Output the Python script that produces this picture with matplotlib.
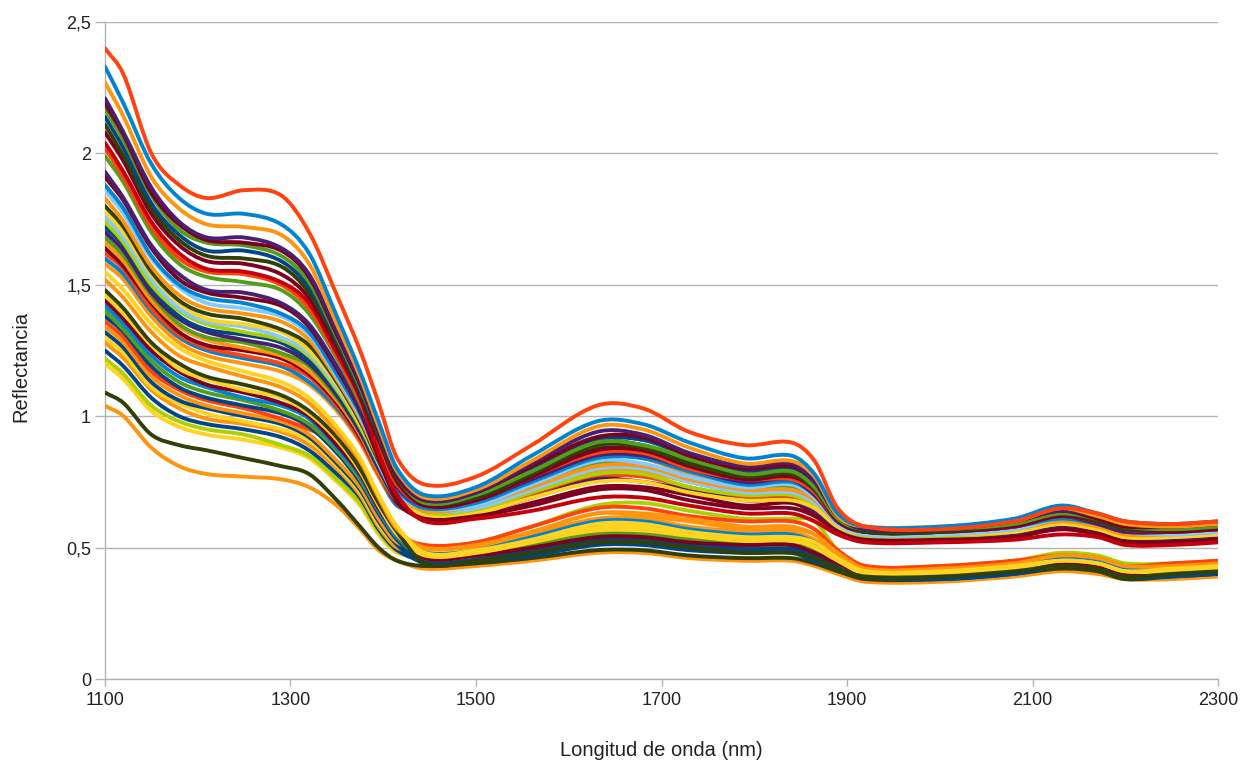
import matplotlib
matplotlib.use("Agg")
import matplotlib.pyplot as plt
from matplotlib.path import Path
from matplotlib.patches import PathPatch

wavelength_nm = [1100, 1120, 1150, 1180, 1210, 1250, 1290, 1320, 1350, 1375, 1395, 1415,
                 1445, 1500, 1560, 1630, 1680, 1730, 1790, 1840, 1865, 1890, 1920, 2000,
                 2080, 2130, 2170, 2200, 2250, 2300]

# Spectra that end in the upper band (~0.55-0.65) beyond 1900 nm
upper_colors = ["#ff420e", "#0084d1", "#ff950e", "#4b1f6f", "#7e0021", "#579d1c", "#004586",
                "#314004", "#7e0021", "#c5000b", "#ff420e", "#579d1c", "#4b1f6f", "#7e0021",
                "#0084d1", "#83caff", "#ff950e", "#314004", "#ffd320", "#83caff", "#aecf00",
                "#004586", "#4b1f6f", "#579d1c", "#ff950e", "#7e0021", "#ff420e", "#0084d1",
                "#ff950e"]
upper_spectra = [
    [2.40, 2.30, 2.00, 1.88, 1.83, 1.86, 1.84, 1.70, 1.46, 1.25, 1.05, 0.84, 0.74, 0.77, 0.89, 1.04, 1.03, 0.94, 0.89, 0.90, 0.83, 0.65, 0.58, 0.57, 0.60, 0.65, 0.63, 0.60, 0.59, 0.60],
    [2.33, 2.19, 1.96, 1.83, 1.77, 1.77, 1.73, 1.62, 1.38, 1.17, 0.98, 0.80, 0.70, 0.73, 0.85, 0.98, 0.97, 0.90, 0.84, 0.85, 0.78, 0.63, 0.58, 0.58, 0.61, 0.66, 0.63, 0.60, 0.59, 0.60],
    [2.27, 2.14, 1.91, 1.79, 1.73, 1.72, 1.69, 1.58, 1.35, 1.15, 0.96, 0.79, 0.69, 0.72, 0.83, 0.96, 0.95, 0.88, 0.82, 0.83, 0.77, 0.62, 0.58, 0.58, 0.60, 0.65, 0.62, 0.59, 0.58, 0.59],
    [2.21, 2.08, 1.87, 1.74, 1.68, 1.68, 1.64, 1.54, 1.32, 1.13, 0.95, 0.78, 0.68, 0.71, 0.82, 0.94, 0.93, 0.86, 0.81, 0.82, 0.75, 0.62, 0.57, 0.57, 0.60, 0.64, 0.62, 0.59, 0.58, 0.59],
    [2.19, 2.07, 1.85, 1.73, 1.67, 1.66, 1.63, 1.53, 1.31, 1.12, 0.94, 0.77, 0.68, 0.71, 0.81, 0.92, 0.92, 0.85, 0.80, 0.81, 0.75, 0.62, 0.57, 0.57, 0.60, 0.64, 0.61, 0.58, 0.58, 0.59],
    [2.17, 2.05, 1.84, 1.71, 1.66, 1.65, 1.61, 1.51, 1.30, 1.11, 0.94, 0.77, 0.67, 0.70, 0.79, 0.90, 0.89, 0.84, 0.78, 0.79, 0.73, 0.61, 0.57, 0.57, 0.59, 0.63, 0.61, 0.58, 0.57, 0.58],
    [2.14, 2.02, 1.81, 1.69, 1.63, 1.63, 1.59, 1.49, 1.29, 1.10, 0.93, 0.77, 0.68, 0.70, 0.80, 0.91, 0.91, 0.85, 0.79, 0.80, 0.74, 0.61, 0.57, 0.57, 0.59, 0.64, 0.61, 0.58, 0.57, 0.58],
    [2.11, 1.99, 1.79, 1.67, 1.61, 1.60, 1.57, 1.47, 1.28, 1.09, 0.92, 0.76, 0.67, 0.69, 0.78, 0.89, 0.88, 0.82, 0.77, 0.78, 0.72, 0.61, 0.56, 0.56, 0.59, 0.63, 0.60, 0.57, 0.57, 0.58],
    [2.08, 1.97, 1.77, 1.65, 1.59, 1.58, 1.54, 1.45, 1.26, 1.08, 0.91, 0.75, 0.66, 0.68, 0.77, 0.87, 0.87, 0.81, 0.76, 0.77, 0.72, 0.60, 0.56, 0.56, 0.58, 0.62, 0.60, 0.57, 0.56, 0.57],
    [2.04, 1.93, 1.74, 1.62, 1.56, 1.55, 1.51, 1.43, 1.24, 1.07, 0.86, 0.70, 0.60, 0.61, 0.64, 0.69, 0.69, 0.66, 0.63, 0.63, 0.60, 0.55, 0.52, 0.52, 0.53, 0.55, 0.54, 0.51, 0.51, 0.52],
    [2.02, 1.91, 1.72, 1.60, 1.55, 1.54, 1.50, 1.41, 1.23, 1.06, 0.89, 0.74, 0.66, 0.68, 0.77, 0.86, 0.86, 0.80, 0.76, 0.76, 0.71, 0.60, 0.56, 0.56, 0.58, 0.62, 0.60, 0.57, 0.56, 0.57],
    [1.99, 1.89, 1.70, 1.58, 1.53, 1.51, 1.48, 1.39, 1.22, 1.05, 0.89, 0.74, 0.67, 0.69, 0.79, 0.89, 0.88, 0.83, 0.78, 0.78, 0.73, 0.61, 0.56, 0.56, 0.59, 0.63, 0.60, 0.57, 0.57, 0.58],
    [1.93, 1.83, 1.65, 1.54, 1.48, 1.47, 1.43, 1.35, 1.19, 1.03, 0.87, 0.73, 0.66, 0.68, 0.76, 0.85, 0.85, 0.80, 0.75, 0.76, 0.70, 0.60, 0.56, 0.56, 0.58, 0.62, 0.59, 0.56, 0.56, 0.57],
    [1.91, 1.82, 1.64, 1.52, 1.47, 1.45, 1.42, 1.34, 1.18, 1.02, 0.84, 0.68, 0.61, 0.62, 0.66, 0.72, 0.72, 0.68, 0.65, 0.65, 0.62, 0.56, 0.53, 0.53, 0.54, 0.57, 0.55, 0.52, 0.52, 0.53],
    [1.88, 1.79, 1.61, 1.50, 1.45, 1.43, 1.39, 1.32, 1.16, 1.01, 0.85, 0.72, 0.65, 0.67, 0.75, 0.84, 0.84, 0.79, 0.74, 0.75, 0.70, 0.60, 0.56, 0.56, 0.58, 0.61, 0.59, 0.56, 0.56, 0.57],
    [1.86, 1.77, 1.60, 1.49, 1.43, 1.41, 1.38, 1.31, 1.15, 1.00, 0.85, 0.71, 0.65, 0.66, 0.74, 0.83, 0.82, 0.77, 0.73, 0.74, 0.69, 0.59, 0.55, 0.55, 0.57, 0.61, 0.59, 0.56, 0.55, 0.56],
    [1.83, 1.74, 1.57, 1.46, 1.41, 1.39, 1.36, 1.29, 1.14, 0.99, 0.84, 0.71, 0.64, 0.66, 0.73, 0.81, 0.81, 0.76, 0.72, 0.72, 0.68, 0.59, 0.55, 0.55, 0.57, 0.60, 0.58, 0.55, 0.55, 0.56],
    [1.80, 1.72, 1.55, 1.44, 1.39, 1.37, 1.33, 1.27, 1.13, 0.98, 0.83, 0.70, 0.66, 0.68, 0.77, 0.88, 0.87, 0.82, 0.77, 0.77, 0.72, 0.61, 0.57, 0.57, 0.59, 0.63, 0.61, 0.58, 0.57, 0.58],
    [1.78, 1.70, 1.54, 1.43, 1.37, 1.35, 1.32, 1.25, 1.12, 0.97, 0.83, 0.70, 0.62, 0.63, 0.69, 0.75, 0.75, 0.71, 0.68, 0.68, 0.65, 0.58, 0.55, 0.55, 0.56, 0.59, 0.57, 0.54, 0.54, 0.55],
    [1.76, 1.68, 1.52, 1.41, 1.36, 1.34, 1.30, 1.24, 1.11, 0.97, 0.82, 0.69, 0.64, 0.65, 0.72, 0.80, 0.80, 0.75, 0.71, 0.71, 0.67, 0.59, 0.55, 0.55, 0.57, 0.60, 0.58, 0.55, 0.55, 0.56],
    [1.74, 1.66, 1.50, 1.40, 1.35, 1.32, 1.29, 1.23, 1.10, 0.96, 0.82, 0.69, 0.63, 0.64, 0.71, 0.78, 0.78, 0.73, 0.70, 0.70, 0.66, 0.58, 0.54, 0.54, 0.56, 0.59, 0.57, 0.54, 0.54, 0.55],
    [1.72, 1.65, 1.49, 1.38, 1.33, 1.31, 1.28, 1.21, 1.09, 0.95, 0.81, 0.69, 0.67, 0.69, 0.79, 0.90, 0.89, 0.83, 0.78, 0.79, 0.73, 0.61, 0.57, 0.57, 0.59, 0.63, 0.61, 0.58, 0.57, 0.58],
    [1.70, 1.63, 1.47, 1.37, 1.32, 1.29, 1.26, 1.20, 1.08, 0.94, 0.80, 0.68, 0.62, 0.63, 0.69, 0.76, 0.75, 0.72, 0.68, 0.68, 0.64, 0.57, 0.54, 0.54, 0.55, 0.58, 0.57, 0.54, 0.53, 0.54],
    [1.68, 1.61, 1.46, 1.35, 1.30, 1.28, 1.24, 1.19, 1.07, 0.94, 0.80, 0.68, 0.64, 0.66, 0.73, 0.82, 0.81, 0.77, 0.72, 0.73, 0.68, 0.59, 0.55, 0.55, 0.57, 0.60, 0.58, 0.55, 0.55, 0.56],
    [1.66, 1.59, 1.44, 1.34, 1.29, 1.26, 1.23, 1.17, 1.06, 0.93, 0.79, 0.68, 0.65, 0.67, 0.75, 0.85, 0.84, 0.78, 0.74, 0.74, 0.70, 0.60, 0.56, 0.56, 0.57, 0.61, 0.60, 0.57, 0.56, 0.57],
    [1.64, 1.57, 1.43, 1.32, 1.27, 1.25, 1.22, 1.16, 1.05, 0.92, 0.79, 0.67, 0.61, 0.62, 0.67, 0.73, 0.73, 0.70, 0.66, 0.67, 0.63, 0.57, 0.54, 0.54, 0.55, 0.57, 0.56, 0.53, 0.53, 0.54],
    [1.62, 1.56, 1.41, 1.31, 1.26, 1.23, 1.20, 1.15, 1.04, 0.91, 0.78, 0.67, 0.62, 0.64, 0.70, 0.77, 0.77, 0.73, 0.69, 0.69, 0.65, 0.58, 0.54, 0.54, 0.56, 0.58, 0.57, 0.54, 0.54, 0.55],
    [1.60, 1.54, 1.40, 1.30, 1.25, 1.22, 1.19, 1.13, 1.03, 0.91, 0.78, 0.66, 0.65, 0.69, 0.81, 0.92, 0.91, 0.85, 0.80, 0.80, 0.74, 0.62, 0.57, 0.57, 0.60, 0.64, 0.61, 0.58, 0.58, 0.59],
    [1.58, 1.52, 1.38, 1.28, 1.23, 1.20, 1.17, 1.12, 1.02, 0.90, 0.77, 0.66, 0.63, 0.65, 0.72, 0.79, 0.79, 0.75, 0.71, 0.72, 0.67, 0.58, 0.55, 0.55, 0.56, 0.60, 0.59, 0.56, 0.55, 0.56],
]

# Spectra that end in the lower band (~0.38-0.45) beyond 1900 nm
lower_colors = ["#ffd320", "#ff950e", "#314004", "#ffd320", "#7e0021", "#0084d1", "#579d1c",
                "#004586", "#ff420e", "#ff950e", "#004586", "#ffd320", "#ff950e", "#004586",
                "#aecf00", "#ffd320", "#314004", "#ff950e"]
lower_spectra = [
    [1.55, 1.48, 1.35, 1.26, 1.21, 1.17, 1.13, 1.07, 0.96, 0.84, 0.70, 0.58, 0.48, 0.49, 0.53, 0.59, 0.59, 0.56, 0.54, 0.54, 0.52, 0.46, 0.41, 0.41, 0.43, 0.45, 0.44, 0.41, 0.42, 0.43],
    [1.52, 1.45, 1.32, 1.23, 1.19, 1.15, 1.11, 1.05, 0.94, 0.83, 0.69, 0.57, 0.50, 0.51, 0.56, 0.63, 0.63, 0.61, 0.58, 0.58, 0.55, 0.48, 0.42, 0.42, 0.44, 0.47, 0.46, 0.43, 0.43, 0.44],
    [1.48, 1.41, 1.28, 1.20, 1.15, 1.12, 1.08, 1.02, 0.92, 0.80, 0.67, 0.56, 0.44, 0.45, 0.48, 0.52, 0.52, 0.50, 0.48, 0.48, 0.46, 0.42, 0.39, 0.39, 0.41, 0.43, 0.42, 0.39, 0.40, 0.41],
    [1.46, 1.39, 1.27, 1.18, 1.14, 1.10, 1.07, 1.01, 0.91, 0.79, 0.66, 0.55, 0.47, 0.48, 0.52, 0.57, 0.57, 0.55, 0.53, 0.53, 0.50, 0.45, 0.40, 0.40, 0.42, 0.45, 0.44, 0.41, 0.41, 0.42],
    [1.44, 1.37, 1.25, 1.17, 1.12, 1.09, 1.05, 1.00, 0.89, 0.78, 0.65, 0.55, 0.46, 0.47, 0.50, 0.54, 0.54, 0.52, 0.51, 0.51, 0.48, 0.44, 0.40, 0.40, 0.42, 0.44, 0.43, 0.40, 0.41, 0.42],
    [1.42, 1.35, 1.23, 1.15, 1.11, 1.07, 1.04, 0.99, 0.88, 0.77, 0.64, 0.54, 0.48, 0.49, 0.54, 0.60, 0.60, 0.57, 0.55, 0.55, 0.52, 0.46, 0.41, 0.41, 0.43, 0.46, 0.45, 0.42, 0.42, 0.43],
    [1.40, 1.33, 1.21, 1.13, 1.09, 1.06, 1.02, 0.97, 0.87, 0.76, 0.64, 0.54, 0.46, 0.47, 0.51, 0.55, 0.55, 0.53, 0.51, 0.51, 0.49, 0.44, 0.40, 0.40, 0.42, 0.44, 0.43, 0.40, 0.41, 0.42],
    [1.38, 1.32, 1.19, 1.11, 1.07, 1.04, 1.01, 0.96, 0.86, 0.75, 0.63, 0.53, 0.45, 0.46, 0.49, 0.53, 0.53, 0.50, 0.49, 0.49, 0.47, 0.43, 0.39, 0.39, 0.41, 0.43, 0.42, 0.39, 0.40, 0.41],
    [1.36, 1.30, 1.17, 1.10, 1.06, 1.03, 0.99, 0.95, 0.90, 0.82, 0.68, 0.56, 0.51, 0.52, 0.58, 0.65, 0.65, 0.62, 0.60, 0.60, 0.57, 0.49, 0.43, 0.43, 0.45, 0.47, 0.46, 0.43, 0.44, 0.45],
    [1.34, 1.28, 1.15, 1.08, 1.04, 1.01, 0.98, 0.93, 0.83, 0.73, 0.61, 0.52, 0.50, 0.51, 0.56, 0.63, 0.62, 0.60, 0.57, 0.57, 0.55, 0.48, 0.42, 0.42, 0.44, 0.47, 0.46, 0.43, 0.43, 0.44],
    [1.32, 1.26, 1.13, 1.06, 1.03, 1.00, 0.97, 0.92, 0.82, 0.72, 0.60, 0.51, 0.44, 0.45, 0.47, 0.51, 0.51, 0.49, 0.48, 0.48, 0.45, 0.42, 0.39, 0.38, 0.40, 0.43, 0.42, 0.39, 0.39, 0.40],
    [1.30, 1.24, 1.11, 1.05, 1.01, 0.98, 0.95, 0.91, 0.81, 0.71, 0.59, 0.51, 0.48, 0.49, 0.53, 0.58, 0.58, 0.56, 0.54, 0.54, 0.51, 0.46, 0.41, 0.41, 0.43, 0.45, 0.44, 0.41, 0.42, 0.43],
    [1.28, 1.22, 1.10, 1.03, 0.99, 0.97, 0.94, 0.89, 0.80, 0.70, 0.58, 0.50, 0.49, 0.50, 0.55, 0.61, 0.61, 0.58, 0.56, 0.56, 0.53, 0.47, 0.41, 0.41, 0.43, 0.46, 0.45, 0.42, 0.42, 0.43],
    [1.25, 1.19, 1.07, 1.00, 0.97, 0.95, 0.92, 0.87, 0.78, 0.69, 0.57, 0.49, 0.45, 0.46, 0.49, 0.54, 0.53, 0.51, 0.50, 0.50, 0.48, 0.43, 0.39, 0.39, 0.41, 0.44, 0.43, 0.40, 0.40, 0.41],
    [1.22, 1.16, 1.04, 0.98, 0.95, 0.93, 0.89, 0.85, 0.76, 0.67, 0.56, 0.49, 0.50, 0.52, 0.58, 0.66, 0.67, 0.64, 0.61, 0.61, 0.60, 0.49, 0.43, 0.43, 0.45, 0.48, 0.47, 0.44, 0.44, 0.45],
    [1.20, 1.14, 1.02, 0.96, 0.93, 0.91, 0.88, 0.84, 0.75, 0.66, 0.55, 0.48, 0.47, 0.48, 0.51, 0.56, 0.56, 0.54, 0.52, 0.52, 0.50, 0.45, 0.40, 0.40, 0.42, 0.44, 0.43, 0.40, 0.41, 0.42],
    [1.09, 1.05, 0.93, 0.89, 0.87, 0.84, 0.81, 0.78, 0.68, 0.58, 0.50, 0.45, 0.43, 0.44, 0.46, 0.49, 0.49, 0.47, 0.46, 0.46, 0.44, 0.41, 0.38, 0.38, 0.40, 0.42, 0.41, 0.38, 0.39, 0.40],
    [1.04, 1.00, 0.88, 0.81, 0.78, 0.77, 0.76, 0.73, 0.66, 0.57, 0.49, 0.45, 0.42, 0.43, 0.45, 0.48, 0.48, 0.46, 0.45, 0.45, 0.43, 0.40, 0.37, 0.37, 0.39, 0.41, 0.40, 0.38, 0.38, 0.39],
]

x_ticks = [1100, 1300, 1500, 1700, 1900, 2100, 2300]
y_ticks = [0, 0.5, 1, 1.5, 2, 2.5]
y_tick_labels = ["0", "0,5", "1", "1,5", "2", "2,5"]
x_label = "Longitud de onda (nm)"
y_label = "Reflectancia"

plt.rcParams["font.family"] = ["Liberation Sans", "DejaVu Sans"]
axis_gray = "#b3b3b3"


def smooth_line_path(xs, ys):
    """Smooth (cubic Bezier) path through the read points, like a 'smooth line' chart."""
    n = len(xs)
    slopes = []
    for i in range(n):
        lo, hi = max(i - 1, 0), min(i + 1, n - 1)
        slopes.append((ys[hi] - ys[lo]) / (xs[hi] - xs[lo]))
    verts = [(xs[0], ys[0])]
    codes = [Path.MOVETO]
    for i in range(n - 1):
        h = xs[i + 1] - xs[i]
        verts += [(xs[i] + h / 3, ys[i] + slopes[i] * h / 3),
                  (xs[i + 1] - h / 3, ys[i + 1] - slopes[i + 1] * h / 3),
                  (xs[i + 1], ys[i + 1])]
        codes += [Path.CURVE4] * 3
    return Path(verts, codes)


fig = plt.figure(figsize=(12.41, 7.62), dpi=100)
ax = fig.add_axes([0.0846, 0.1089, 0.8969, 0.8622])

for spectra, colors in ((lower_spectra, lower_colors), (upper_spectra, upper_colors)):
    for values, color in reversed(list(zip(spectra, colors))):
        patch = PathPatch(smooth_line_path(wavelength_nm, values), fill=False,
                          edgecolor=color, lw=2.8, capstyle="round", joinstyle="round",
                          zorder=3)
        ax.add_patch(patch)

ax.set_xlim(1100, 2300)
ax.set_ylim(0, 2.5)
ax.set_xticks(x_ticks)
ax.set_xticklabels([str(t) for t in x_ticks])
ax.set_yticks(y_ticks)
ax.set_yticklabels(y_tick_labels)
ax.yaxis.grid(True, color=axis_gray, lw=1.0, zorder=0)
ax.set_axisbelow(True)

for side in ("top", "right"):
    ax.spines[side].set_visible(False)
for side in ("left", "bottom"):
    ax.spines[side].set_color(axis_gray)
    ax.spines[side].set_linewidth(1.0)
    ax.spines[side].set_zorder(2)

ax.tick_params(axis="both", direction="out", width=1, color=axis_gray,
               labelsize=13, labelcolor="#222222")
ax.tick_params(axis="x", length=5, pad=4)
ax.tick_params(axis="y", length=7, pad=3)

fig.text(661 / 1241, 1 - 750 / 762, x_label, ha="center", va="center",
         fontsize=14.5, color="#222222")
fig.text(21 / 1241, 1 - 366 / 762, y_label, ha="center", va="center", rotation=90,
         fontsize=14.5, color="#222222")

fig.savefig("out.png", dpi=100, facecolor="white")
